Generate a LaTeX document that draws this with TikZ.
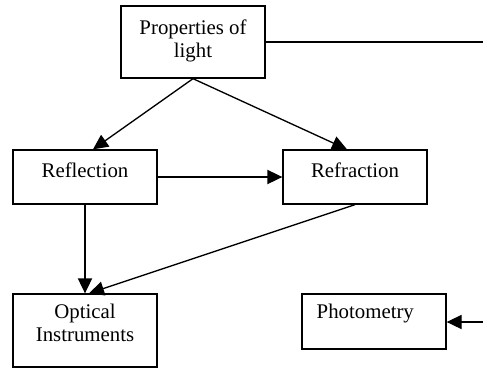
\documentclass[tikz,border=0pt]{standalone}
\usepackage{fontspec}
\setmainfont{Liberation Serif}
\usetikzlibrary{arrows.meta,positioning,calc}

\begin{document}
\begin{tikzpicture}[
  x=0.6pt, y=-0.6pt,
  % ── topic boxes ──
  topic/.style={draw=black, rectangle, line width=0.8pt,
                minimum width=86.4pt, inner sep=0pt},
  % ── box texts ──
  caption/.style={inner sep=0pt, align=center,
                  font=\fontsize{12.5}{13.8}\selectfont},
  % ── arrows ──
  arr/.style={-{Triangle[length=9pt,width=8.5pt]}, line width=0.8pt},
  wire/.style={line width=0.8pt},
]

%% ─── frame (1 unit = 1 px of the 483 x 368 page) ───────────────
\useasboundingbox (0,0) rectangle (483,368);

%% ─── 1. Boxes ─────────────────────────────────────────────────
\node[topic, minimum height=43.2pt] (props) at (193,42)    {};
\node[topic, minimum height=32.4pt] (refl)  at (85,177)    {};
\node[topic, minimum height=32.4pt] (refr)  at (355,177)   {};
\node[topic, minimum height=43.8pt] (optic) at (85,330.5)  {};
\node[topic, minimum height=33pt]   (photo) at (374,321.5) {};

%% ─── 2. Texts, set at the top of each box ─────────────────────
\node[caption, anchor=north] (propsT) at ($(props.north)+(0,14)$) {Properties of\\light};
\node[caption, anchor=north] (reflT)  at ($(refl.north)+(0,13)$)  {Reflection};
\node[caption, anchor=north] (refrT)  at ($(refr.north)+(0,13)$)  {Refraction};
\node[caption, anchor=north] (opticT) at ($(optic.north)+(0,10)$) {Optical\\Instruments};
\node[caption, anchor=north west] (photoT) at ($(photo.north west)+(15,10)$) {Photometry};

%% ─── 3. Connectors ───────────────────────────────────────────
\draw[arr] (props.south) -- ($(refl.north)+(8,0)$);
\draw[arr] (props.south) -- ($(refr.north)+(-8,0)$);
\draw[arr] (refl.east) -- (refr.west);
\draw[arr] (refl.south) -- (optic.north);
\draw[arr] (refr.south) -- ($(optic.north)+(4,0)$);

% lines running off the right edge
\coordinate (edgeL) at (483,42);
\coordinate (edgeP) at (483,322);
\draw[wire] (props.east) -- (edgeL);
\draw[arr]  (edgeP) -- (edgeP -| photo.east);

\end{tikzpicture}
\end{document}
